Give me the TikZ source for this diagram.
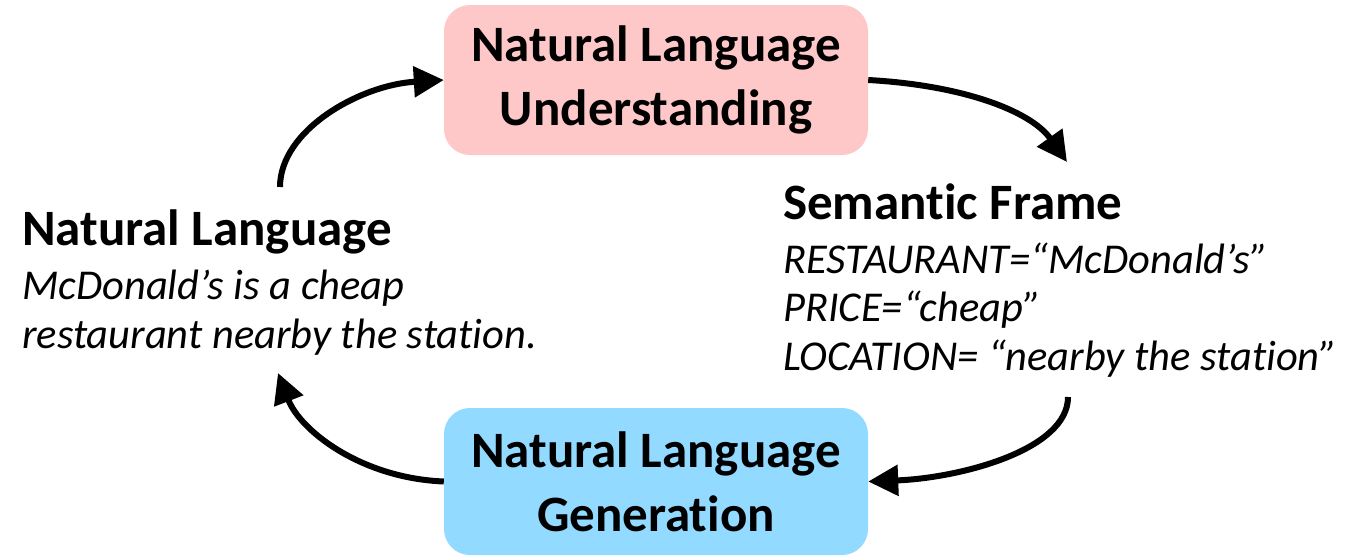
\documentclass[tikz,border=0pt]{standalone}
\usepackage{fontspec}
\setmainfont[Ligatures=NoCommon]{Carlito}
\usetikzlibrary{arrows.meta}
\definecolor{nlupink}{RGB}{255,200,200}
\definecolor{nlgblue}{RGB}{146,218,255}
\tikzset{
  stage/.style={rounded corners=26pt, minimum width=424pt, align=center,
    inner sep=0pt, font=\fontsize{51}{64}\selectfont\bfseries},
  heading/.style={anchor=base west, inner sep=0pt, font=\fontsize{51}{60}\selectfont\bfseries},
  detail/.style={anchor=base west, inner sep=0pt, font=\fontsize{42.5}{50}\selectfont\itshape},
  flow/.style={line width=6pt, -{Triangle[length=30pt,width=30pt]}},
}
\begin{document}
\begin{tikzpicture}[x=1pt,y=1pt]
\useasboundingbox (0,0) rectangle (1348,-557);
% processing stages
\node[stage, fill=nlupink, minimum height=150pt] (nlu) at (656,-80)
  {Natural Language\\Understanding};
\node[stage, fill=nlgblue, minimum height=147pt] (nlg) at (656,-481.5)
  {Natural Language\\Generation};
% natural language side
\node[heading] (nltitle) at (22,-245) {Natural Language};
\node[detail] (nlone) at (22,-299) {McDonald’s is a cheap};
\node[detail] (nltwo) at (22,-348) {restaurant nearby the station.};
% semantic frame side
\node[heading] (sftitle) at (783,-219) {Semantic Frame};
\node[detail] (sfone) at (783,-273) {RESTAURANT=“McDonald’s”};
\node[detail] (sftwo) at (783,-321) {PRICE=“cheap”};
\node[detail] (sfthree) at (783,-370) {LOCATION= “nearby the station”};
% loose arrow ends
\coordinate (nlout) at (280,-187);
\coordinate (sfin) at (1067,-162);
\coordinate (sfout) at (1068,-397);
\coordinate (nlin) at (278,-373);
% cycle arrows
\draw[flow] (nlout) .. controls (280,-130) and (360,-85) .. (nlu.west);
\draw[flow] (nlu.east) .. controls (960,-85) and (1030,-110) .. (sfin);
\draw[flow] (sfout) .. controls (1068,-450) and (960,-478) .. (nlg.east);
\draw[flow] (nlg.west) .. controls (360,-478) and (300,-430) .. (nlin);
\end{tikzpicture}
\end{document}
